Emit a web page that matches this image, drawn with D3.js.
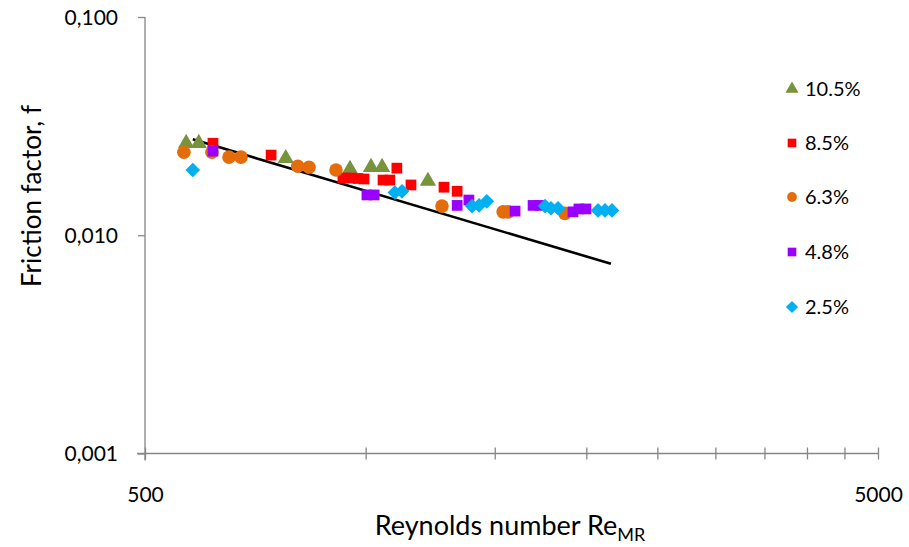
<!DOCTYPE html>
<html><head><meta charset="utf-8">
<script src="https://cdn.jsdelivr.net/npm/d3@7"></script>
<style>body{margin:0;background:#fff;}svg{display:block;font-family:Lato,"Open Sans",sans-serif;}</style>
</head><body>
<svg id="c" width="909" height="547"></svg>
<script>
const seriesNames = ["10.5%","8.5%","6.3%","4.8%","2.5%"];
const colors = ["#77933C","#FF0000","#E46C0A","#9900FF","#00B0F0"];
const shapes = ["triangle","square","circle","square","diamond"];
const re105 = [569,592,778,952,1017,1053,1216];
const f105 = [0.0264,0.0264,0.0225,0.0201,0.0205,0.0205,0.0177];
const re85 = [619,743,931,955,976,995,1056,1079,1103,1153,1279,1333];
const f85 = [0.0264,0.0233,0.0183,0.0183,0.0182,0.0181,0.0179,0.0179,0.0203,0.0170,0.0166,0.0159];
const re63 = [565,617,651,676,808,837,911,1271,1540,1564,1870];
const f63 = [0.0240,0.0240,0.0228,0.0228,0.0207,0.0205,0.0199,0.0136,0.0128,0.0128,0.0126];
const re48 = [619,1004,1027,1333,1383,1599,1692,1729,1918,1954,1998];
const f48 = [0.0243,0.0153,0.0153,0.0137,0.0145,0.0129,0.0137,0.0137,0.0128,0.0132,0.0132];
const re25 = [581,1096,1121,1397,1428,1463,1757,1790,1830,2075,2121,2168];
const f25 = [0.0199,0.0157,0.0159,0.0136,0.0137,0.0143,0.0136,0.0133,0.0133,0.0130,0.0130,0.0130];
const lineRe = [581,2161];
const lineF = [0.0275,0.00740];
const xTicks = [500,1000,1500,2000,2500,3000,3500,4000,4500,5000];
const xLabels = ["500","5000"];
const yTicks = [0.001,0.01,0.1];
const yLabels = ["0,001","0,010","0,100"];

const svg = d3.select("#c");
const L=145,R=878,T=17,B=453.5;
const x = d3.scaleLog().domain([500,5000]).range([L,R]);
const y = d3.scaleLog().domain([0.001,0.1]).range([B,T]);
const axisCol = "#868686";
const ff = "Lato,'Open Sans',sans-serif";

// y axis
const ya = svg.append("g").attr("transform",`translate(${L},0)`)
  .call(d3.axisLeft(y).tickValues(yTicks).tickSize(7).tickFormat((d,i)=>yLabels[i]));
ya.select(".domain").attr("stroke",axisCol).attr("stroke-width",1.3).attr("d",`M0,${T}V${B+7}`);
ya.selectAll(".tick line").attr("stroke",axisCol).attr("stroke-width",1.3);
ya.selectAll(".tick text").attr("font-size",21).attr("fill","#000").attr("x",-27).attr("dy","0.35em").style("font-family",ff);

// x axis
const xa = svg.append("g").attr("transform",`translate(0,${B})`)
  .call(d3.axisBottom(x).tickValues(xTicks).tickSize(6).tickFormat(d=>xLabels.includes(String(d))?String(d):""));
xa.select(".domain").attr("stroke",axisCol).attr("stroke-width",1.3).attr("d",`M${L-8},0H${R}`);
xa.selectAll(".tick line").attr("stroke",axisCol).attr("stroke-width",1.3).attr("y1",-6).attr("y2",6);
xa.selectAll(".tick text").attr("font-size",21).attr("fill","#000").attr("y",34).style("font-family",ff);

// titles
svg.append("text").attr("x",31).attr("y",196).attr("transform","rotate(-90,31,196)")
  .attr("text-anchor","middle").attr("dominant-baseline","central").attr("font-size",26).text("Friction factor, f");
const xt = svg.append("text").attr("x",510).attr("y",535).attr("text-anchor","middle").attr("font-size",27);
xt.append("tspan").text("Reynolds number Re");
xt.append("tspan").attr("font-size",18).attr("dy",6).text("MR");

// line
svg.append("path").datum(lineRe.map((r,i)=>[r,lineF[i]]))
  .attr("d",d3.line().x(d=>x(d[0])).y(d=>y(d[1])))
  .attr("stroke","#000").attr("stroke-width",2.6).attr("fill","none");

function sym(shape,size){
  if(shape==="diamond"){const h=Math.sqrt(size)/1.0; return `M0,${-h/2*1.0}L${h/2},0L0,${h/2}L${-h/2},0Z`;}
  const t = {triangle:d3.symbolTriangle,square:d3.symbolSquare,circle:d3.symbolCircle}[shape];
  return d3.symbol().type(t).size(size)();
}
const sizes = {triangle:115,square:115,circle:145,diamond:215};
const data = [[re105,f105],[re85,f85],[re63,f63],[re48,f48],[re25,f25]];
data.forEach(([rs,fs],si)=>{
  svg.append("g").selectAll("path").data(rs.map((r,i)=>[r,fs[i]])).join("path")
    .attr("transform",d=>`translate(${x(d[0])},${y(d[1])})`)
    .attr("d",sym(shapes[si],sizes[shapes[si]]))
    .attr("fill",colors[si]);
});

// legend
const legY = [89,143,197,252,307];
seriesNames.forEach((n,i)=>{
  const g = svg.append("g").attr("transform",`translate(792,${legY[i]})`);
  g.append("path").attr("d",sym(shapes[i],shapes[i]==="diamond"?150:75)).attr("fill",colors[i]);
  g.append("text").attr("x",13).attr("dy","0.35em").attr("font-size",20).text(n);
});
</script>
</body></html>
